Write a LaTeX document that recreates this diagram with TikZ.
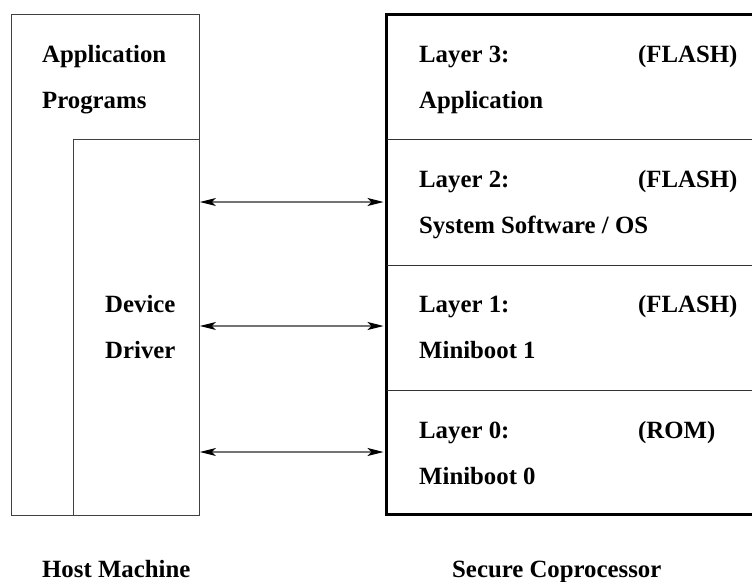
\documentclass[tikz,border=0pt]{standalone}
\usepackage{fontspec}
\setmainfont{Liberation Serif}
\usetikzlibrary{arrows.meta}
\begin{document}
\begin{tikzpicture}[x=1pt,y=-1pt,
  thinbox/.style={draw=black!75,line width=0.9pt,rectangle,inner sep=0pt},
  thickbox/.style={draw=black,line width=3pt,rectangle,inner sep=0pt},
  divider/.style={draw=black!80,line width=1pt},
  label/.style={anchor=base west,inner sep=0pt,font=\fontsize{24.8}{28}\selectfont\bfseries},
  link/.style={draw=black!55,line width=1.2pt,{Stealth[length=16pt,width=8pt,inset=4pt,black]}-{Stealth[length=16pt,width=8pt,inset=4pt,black]}}]
\useasboundingbox (0,0) rectangle (752,581);

% host side
\node[thinbox,minimum width=188.5pt,minimum height=501pt] (host) at (105.25,264.5) {};
\node[thinbox,minimum width=126pt,minimum height=376pt] (driver) at (136.5,327) {};
\node[label] (app) at (42,62) {Application};
\node[label] (prog) at (42,108) {Programs};
\node[label] (dev) at (105,312) {Device};
\node[label] (drv) at (105,358) {Driver};

% coprocessor layers
\node[thickbox,minimum width=366.5pt,minimum height=500pt] (cop) at (569.75,264) {};
\coordinate (d3) at (386.5,139.5);
\coordinate (d2) at (386.5,265);
\coordinate (d1) at (386.5,390);
\foreach \d in {d3,d2,d1} \draw[divider] (\d) -- (\d -| cop.east);

\foreach \n/\base/\mem/\desc in {3/62/(FLASH)/Application,
                                  2/187/(FLASH)/{System Software / OS},
                                  1/312.5/(FLASH)/Miniboot 1,
                                  0/438/(ROM)/Miniboot 0}{
  \node[label] (lay\n) at (419,\base) {Layer \n:};
  \node[label] (mem\n) at (638,\base) {\mem};
  \node[label] (desc\n) at (419,\base+46) {\desc};
}

% links between driver and layers
\foreach \i/\y in {a/202,b/326,c/452}{
  \coordinate (l\i) at (driver.east |- 0,\y);
  \coordinate (r\i) at (cop.west |- 0,\y);
  \draw[link] (l\i) -- ([xshift=-1.5pt]r\i);
}

% captions
\node[label] (hostcap) at (42,577) {Host Machine};
\node[label] (copcap) at (452,577) {Secure Coprocessor};
\end{tikzpicture}
\end{document}
